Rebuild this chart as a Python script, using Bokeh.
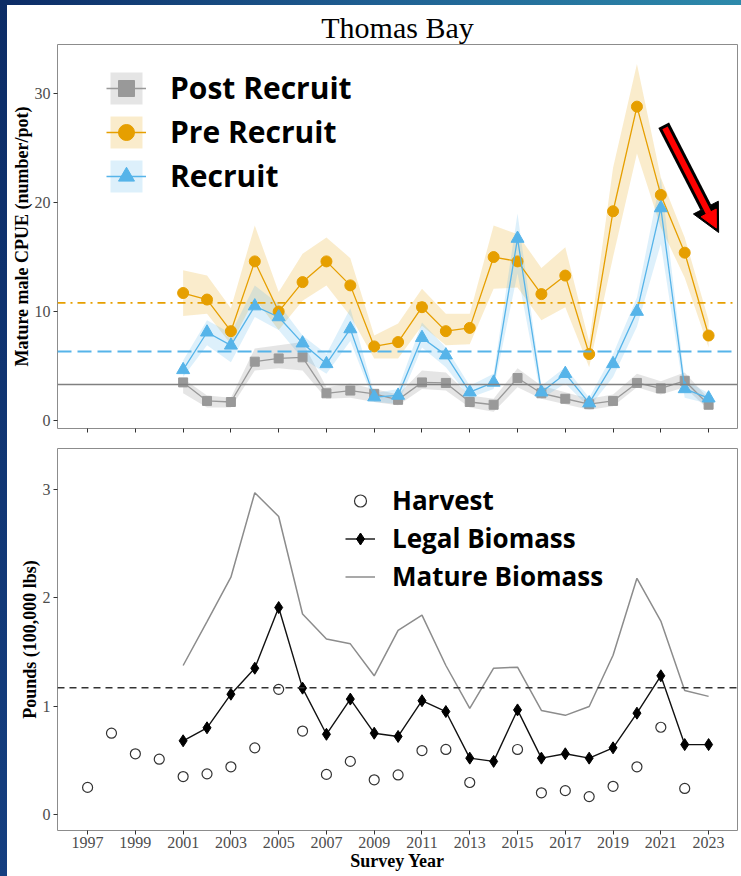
from bokeh.plotting import figure
from bokeh.layouts import column, row
from bokeh.models import FixedTicker, Legend, LegendItem, Arrow, NormalHead, Span, Range1d, Spacer
from bokeh.embed import file_html
from bokeh.resources import INLINE

# ---------------- data ----------------
years = list(range(2001, 2024))
pre = [11.7, 11.1, 8.2, 14.6, 10.0, 12.7, 14.6, 12.4, 6.8, 7.2, 10.4, 8.2, 8.5,
       15.0, 14.6, 11.6, 13.3, 6.1, 19.2, 28.8, 20.7, 15.4, 7.8]
pre_lo = [9.6, 9.8, 7.0, 11.2, 8.3, 11.0, 12.4, 9.6, 5.7, 5.7, 8.7, 6.9, 7.0,
          12.1, 12.2, 9.2, 10.4, 4.9, 15.0, 24.5, 17.7, 13.1, 6.7]
pre_hi = [13.8, 13.3, 10.3, 17.9, 11.8, 15.3, 16.8, 14.9, 7.8, 8.9, 12.1, 9.8, 9.8,
          17.9, 17.1, 14.0, 15.9, 7.2, 23.2, 32.7, 22.3, 16.8, 9.2]
rec = [4.65, 8.1, 6.9, 10.5, 9.5, 7.1, 5.2, 8.4, 2.15, 2.3, 7.6, 6.0, 2.6,
       3.5, 16.7, 2.6, 4.3, 1.6, 5.2, 10.0, 19.5, 2.9, 2.05]
rec_lo = [4.0, 6.9, 5.35, 9.5, 8.3, 5.7, 4.3, 7.3, 1.7, 1.55, 6.7, 4.9, 2.1,
          2.9, 13.5, 2.0, 3.4, 1.2, 4.0, 8.6, 16.2, 2.1, 1.55]
rec_hi = [5.5, 9.2, 8.0, 12.4, 10.7, 7.8, 6.1, 10.3, 2.5, 2.9, 9.0, 6.7, 3.2,
          4.3, 19.0, 3.2, 4.9, 2.1, 6.1, 11.3, 22.3, 3.7, 2.5]
post = [3.5, 1.8, 1.7, 5.4, 5.7, 5.8, 2.5, 2.75, 2.45, 1.9, 3.5, 3.45, 1.7,
        1.45, 3.9, 2.5, 2.0, 1.5, 1.8, 3.45, 2.95, 3.65, 1.45]
post_lo = [2.5, 1.2, 1.2, 4.6, 4.8, 4.6, 2.0, 2.1, 1.7, 1.4, 2.9, 2.75, 1.2,
           0.8, 3.05, 2.0, 1.5, 1.0, 1.3, 3.05, 2.4, 3.05, 1.0]
post_hi = [3.85, 2.3, 2.1, 6.6, 6.9, 7.2, 3.05, 3.4, 2.9, 2.4, 4.6, 4.4, 2.3,
           2.0, 4.8, 3.2, 2.6, 2.0, 2.4, 4.3, 3.6, 4.4, 2.0]
ref_pre, ref_rec, ref_post = 10.8, 6.33, 3.3

harv_years = list(range(1997, 2014)) + list(range(2015, 2023))
harvest = [0.25, 0.75, 0.56, 0.51, 0.35, 0.375, 0.44, 0.615, 1.155, 0.77, 0.37,
           0.49, 0.32, 0.365, 0.59, 0.60, 0.295,
           0.60, 0.20, 0.22, 0.165, 0.26, 0.44, 0.805, 0.24]
legal = [0.68, 0.80, 1.11, 1.35, 1.91, 1.166, 0.74, 1.065, 0.75, 0.72, 1.05, 0.95,
         0.52, 0.49, 0.965, 0.52, 0.56, 0.52, 0.615, 0.935, 1.28, 0.645, 0.645]
mature = [1.375, 1.78, 2.19, 2.97, 2.75, 1.85, 1.62, 1.575, 1.28, 1.70, 1.84, 1.375,
          0.98, 1.35, 1.36, 0.96, 0.915, 0.997, 1.47, 2.18, 1.785, 1.145, 1.09]
ref_legal = 1.17

x_ticks = list(range(1997, 2024, 2))
top_ticks = [0, 10, 20, 30]
bot_ticks = [0, 1, 2, 3]

# arrow annotation (data coords)
arr_x0, arr_y0, arr_x1, arr_y1 = 2021.12, 27.1, 2023.42, 17.25

ORANGE = "#E69F00"
BLUE = "#56B4E9"
GRAY = "#999999"
SERIF = "Liberation Serif"
SANS = "Open Sans"

W = 734
LEFT = 50
XR = (1995.74, 2024.21)


def style(p):
    p.background_fill_color = "white"
    p.border_fill_color = "white"
    p.outline_line_color = "#8c8c8c"
    p.outline_line_width = 1
    p.xgrid.visible = False
    p.ygrid.visible = False
    for ax in (p.xaxis[0], p.yaxis[0]):
        ax.axis_line_color = None
        ax.major_tick_line_color = "#333333"
        ax.major_tick_out = 4
        ax.major_tick_in = 0
        ax.minor_tick_line_color = None
        ax.major_label_text_font = SERIF
        ax.major_label_text_font_size = "16px"
        ax.major_label_text_color = "#4d4d4d"
        ax.axis_label_text_font = SERIF
        ax.axis_label_text_font_style = "bold"
        ax.axis_label_text_font_size = "18px"
        ax.axis_label_text_color = "black"
    p.xaxis[0].ticker = FixedTicker(ticks=x_ticks)
    p.yaxis[0].major_label_standoff = 3
    p.yaxis[0].axis_label_standoff = 0


# ---------------- top panel ----------------
p1 = figure(width=W, height=435, output_backend="svg", toolbar_location=None,
            x_range=Range1d(*XR), y_range=Range1d(-0.73, 34.5),
            min_border_left=LEFT, min_border_right=4, min_border_top=39,
            min_border_bottom=12)
style(p1)
p1.title.text = "Thomas Bay"
p1.title.text_font = SERIF
p1.title.text_font_size = "30px"
p1.title.text_font_style = "normal"
p1.title.text_color = "black"
p1.title.align = "center"
p1.title.standoff = 2
p1.yaxis[0].ticker = FixedTicker(ticks=top_ticks)
p1.yaxis[0].axis_label = "Mature male CPUE (number/pot)"
p1.xaxis[0].major_label_overrides = {t: "" for t in x_ticks}

b_post = p1.varea(x=years, y1=post_lo, y2=post_hi, fill_color=GRAY, fill_alpha=0.25)
b_pre = p1.varea(x=years, y1=pre_lo, y2=pre_hi, fill_color=ORANGE, fill_alpha=0.2)
b_rec = p1.varea(x=years, y1=rec_lo, y2=rec_hi, fill_color=BLUE, fill_alpha=0.2)

p1.add_layout(Span(location=ref_pre, dimension="width", line_color=ORANGE,
                   line_width=1.6, line_dash="8 5 2 5"))
p1.add_layout(Span(location=ref_rec, dimension="width", line_color=BLUE,
                   line_width=2, line_dash="14 6"))
p1.add_layout(Span(location=ref_post, dimension="width", line_color="#808080",
                   line_width=1.6))

l_post = p1.line(years, post, line_color=GRAY, line_width=1.3)
m_post = p1.scatter(years, post, marker="square", size=9, fill_color=GRAY, line_color=GRAY)
l_pre = p1.line(years, pre, line_color=ORANGE, line_width=1.3)
m_pre = p1.scatter(years, pre, marker="circle", size=11, fill_color=ORANGE, line_color=ORANGE)
l_rec = p1.line(years, rec, line_color=BLUE, line_width=1.3)
m_rec = p1.scatter(years, rec, marker="triangle", size=13, fill_color=BLUE, line_color=BLUE)

leg1 = Legend(items=[
    LegendItem(label="Post Recruit", renderers=[b_post, l_post, m_post]),
    LegendItem(label="Pre Recruit", renderers=[b_pre, l_pre, m_pre]),
    LegendItem(label="Recruit", renderers=[b_rec, l_rec, m_rec]),
], location=(49, 232), orientation="vertical")
leg1.glyph_width = 40
leg1.glyph_height = 40
leg1.label_height = 40
leg1.spacing = 3
leg1.padding = 0
leg1.margin = 0
leg1.label_standoff = 24
leg1.border_line_color = None
leg1.background_fill_alpha = 0
leg1.label_text_font = SANS
leg1.label_text_font_style = "bold"
leg1.label_text_font_size = "30px"
leg1.label_text_color = "black"
p1.add_layout(leg1)

# red arrow
ux_px, uy_px = 0.444, 0.896   # unit direction in screen px
px_x, px_y = 1 / 23.88, 1 / 10.9
p1.add_layout(Arrow(x_start=arr_x0, y_start=arr_y0, x_end=arr_x1, y_end=arr_y1,
                    line_color="black", line_width=12,
                    end=NormalHead(size=28, fill_color="black", line_color="black",
                                   line_width=1)))
p1.add_layout(Arrow(x_start=arr_x0 + 3 * ux_px * px_x, y_start=arr_y0 - 3 * uy_px * px_y,
                    x_end=arr_x1 - 5 * ux_px * px_x, y_end=arr_y1 + 5 * uy_px * px_y,
                    line_color="#ff0000", line_width=6,
                    end=NormalHead(size=17, fill_color="#ff0000", line_color="#ff0000",
                                   line_width=1)))

# ---------------- bottom panel ----------------
p2 = figure(width=W, height=436, output_backend="svg", toolbar_location=None,
            x_range=Range1d(*XR), y_range=Range1d(-0.148, 3.378),
            min_border_left=LEFT, min_border_right=4, min_border_top=8,
            min_border_bottom=46)
style(p2)
p2.yaxis[0].ticker = FixedTicker(ticks=bot_ticks)
p2.yaxis[0].axis_label = "Pounds (100,000 lbs)"
p2.xaxis[0].axis_label = "Survey Year"
p2.xaxis[0].axis_label_standoff = 0
p2.xaxis[0].major_label_standoff = 2

p2.add_layout(Span(location=ref_legal, dimension="width", line_color="#333333",
                   line_width=1.5, line_dash="7 5"))
l_mat = p2.line(years, mature, line_color="#8c8c8c", line_width=1.5)
l_leg = p2.line(years, legal, line_color="#111111", line_width=1.4)
m_leg = p2.scatter(years, legal, marker="diamond", size=12,
                   fill_color="black", line_color="black")
m_har = p2.scatter(harv_years, harvest, marker="circle", size=10, fill_color=None,
                   line_color="#333333", line_width=1.2)

leg2 = Legend(items=[
    LegendItem(label="Harvest", renderers=[m_har]),
    LegendItem(label="Legal Biomass", renderers=[l_leg, m_leg]),
    LegendItem(label="Mature Biomass", renderers=[l_mat]),
], location=(288, 236), orientation="vertical")
leg2.glyph_width = 30
leg2.glyph_height = 35
leg2.label_height = 35
leg2.spacing = 2
leg2.padding = 0
leg2.margin = 0
leg2.label_standoff = 17
leg2.border_line_color = None
leg2.background_fill_alpha = 0
leg2.label_text_font = SANS
leg2.label_text_font_style = "bold"
leg2.label_text_font_size = "26px"
leg2.label_text_color = "black"
p2.add_layout(leg2)

# slide background strips (left and top edges)
left_strip = Spacer(width=7, height=876,
                    styles={"background": "linear-gradient(180deg, #0c2c66, #153f80)"})
top_strip = Spacer(width=W, height=5,
                   styles={"background": "linear-gradient(90deg, #0c2c66, #1f5f92, #2d8aab)"})

layout = row(left_strip, column(top_strip, p1, p2, spacing=0), spacing=0)
open("out.html", "w").write(file_html(layout, INLINE))
